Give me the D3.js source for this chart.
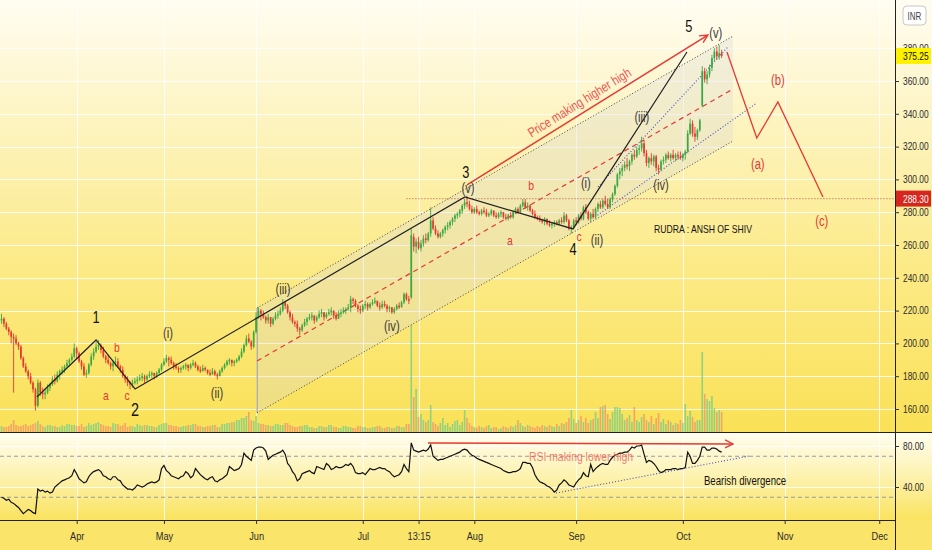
<!DOCTYPE html>
<html>
<head>
<meta charset="utf-8">
<script src="https://cdn.jsdelivr.net/npm/d3@7"></script>
<style>
  body { margin: 0; overflow: hidden; background: #fbe46a; }
  svg { display: block; }
</style>
</head>
<body>
<svg id="chart"></svg>
<script>
// 4h candles, [open, high, low, close], two bars per session
let marBars = [
  [214,218,212,215],[215,216,210,212],[212,213,208,209],[209,210,205,207],[207,208,200,204],[204,206,170,203],
  [203,205,199,200],[200,201,196,198],[198,199,190,191],[191,192,185,186],[186,188,182,183],[183,184,178,180],
  [180,182,175,176],[176,177,170,172],[172,173,159,162],[162,178,161,176],[176,177,168,170],[170,173,166,169],
  [169,172,166,170],[170,175,169,173],[173,176,171,175],[175,180,174,178],[178,181,175,177],[177,183,176,181],
  [181,184,178,183],[183,186,181,184],[184,187,182,186],[186,190,185,188],[188,191,186,190],[190,194,189,192],
  [192,200,191,197],[197,198,190,194]
]
let aprBars = [
  [194,195,188,189],[189,190,184,186],[186,188,180,181],[181,184,179,182],[182,188,181,187],[187,194,186,192],
  [192,197,190,195],[195,201,194,198],[198,202,196,199],[199,200,194,196],[196,198,191,192],[192,193,188,190],
  [190,193,187,188],[188,189,184,186],[186,190,183,188],[188,192,186,189],[189,191,185,186],[186,187,182,184],
  [184,186,179,180],[180,181,176,178],[178,180,174,176],[176,177,172,175],[175,178,173,176],[176,179,175,177],
  [177,180,175,178],[178,181,177,179],[179,182,177,180],[180,181,176,178],[178,181,177,180],[180,183,179,181],
  [181,183,179,182],[182,182,178,180],[180,183,179,182],[182,185,181,184],[184,188,183,187],[187,191,186,189]
]
let mayBars = [
  [189,193,188,191],[191,192,186,190],[190,192,187,188],[188,189,184,186],[186,188,184,185],[185,186,182,184],
  [184,186,182,185],[185,187,184,186],[186,188,184,187],[187,187,183,185],[185,188,184,187],[187,190,186,188],
  [188,189,185,186],[186,187,183,184],[184,186,182,183],[183,187,183,185],[185,186,183,184],[184,184,181,182],
  [182,184,180,181],[181,185,181,183],[183,184,180,181],[181,182,178,180],[180,184,180,183],[183,186,182,185],
  [185,188,184,187],[187,190,186,189],[189,191,187,190],[190,190,186,188],[188,190,186,189],[189,191,188,190],
  [190,193,189,192],[192,197,191,195],[195,200,194,199],[199,205,198,203],[203,206,200,201],[201,202,196,198],
  [198,208,197,207],[207,219,206,216]
]
let junBars = [
  [216,222,215,220],[220,221,214,218],[218,220,215,216],[216,217,212,214],[214,218,212,216],[216,216,210,212],
  [212,216,211,215],[215,219,214,217],[217,220,215,218],[218,222,217,220],[220,227,219,225],[225,226,221,223],
  [223,224,218,219],[219,220,214,216],[216,218,212,213],[213,214,210,212],[212,214,207,209],[209,210,205,208],
  [208,212,207,211],[211,215,210,213],[213,216,211,215],[215,218,214,216],[216,219,214,217],[217,217,212,214],
  [214,217,213,216],[216,220,215,218],[218,221,216,219],[219,219,214,216],[216,219,215,218],[218,221,217,219],
  [219,222,217,220],[220,220,215,217],[217,219,214,215],[215,220,215,218],[218,221,216,219],[219,222,218,220],
  [220,222,218,221],[221,224,220,222],[222,229,219,227],[227,228,224,226],[226,227,222,223],[223,224,219,221],
  [221,223,218,220],[220,224,219,223]
]
let julBars = [
  [223,226,221,224],[224,225,220,222],[222,225,221,224],[224,227,223,225],[225,228,224,226],[226,226,222,223],
  [223,225,220,222],[222,226,221,224],[224,226,222,223],[223,224,219,221],[221,223,219,222],[222,222,218,219],
  [219,222,218,221],[221,224,220,223],[223,225,221,222],[222,226,222,225],[225,231,224,230],[230,231,226,227],
  [227,229,224,226],[228,270,227,266],[265,267,256,259],[259,264,255,262],[262,265,257,258],[258,263,256,261],
  [261,266,259,264],[264,267,261,263],[263,268,262,267],[267,283,265,275],[275,277,269,270],[270,272,266,267],
  [267,269,264,265],[265,268,264,267],[267,270,265,269],[269,272,267,271],[271,274,269,272],[272,275,270,274],
  [274,277,272,276],[276,279,274,278],[278,280,276,279],[279,282,277,281],[281,285,279,284],[284,288,282,286],
  [286,290,283,285],[285,287,281,282],[282,284,279,280],[280,283,279,282]
]
let augBars = [
  [282,284,279,280],[280,281,278,279],[279,282,278,281],[281,283,279,280],[280,282,277,278],[278,280,277,279],
  [279,282,278,281],[281,281,277,278],[278,280,276,277],[277,280,276,279],[279,281,277,280],[280,280,276,277],
  [277,279,275,276],[276,279,275,278],[278,280,276,277],[277,281,276,280],[280,283,279,282],[282,283,279,280],
  [280,285,279,284],[284,288,283,286],[286,288,282,283],[283,286,281,284],[284,285,280,281],[281,282,278,279],
  [279,281,276,277],[277,278,275,276],[276,278,274,275],[275,276,273,274],[274,277,272,276],[276,276,272,273],
  [273,275,271,272],[272,274,270,273],[273,275,271,274],[274,275,272,273],[273,276,272,275],[275,277,273,274],
  [274,280,273,278],[278,279,274,275],[275,276,269,270],[270,272,267,271],[271,276,270,275],[275,277,272,274]
]
let sepBars = [
  [274,279,273,278],[278,280,275,276],[276,284,275,283],[283,285,279,280],[280,281,275,276],[276,280,274,279],
  [279,282,276,277],[277,283,276,282],[282,286,280,285],[285,287,282,283],[283,288,282,287],[287,290,284,285],
  [285,288,282,283],[283,289,282,288],[288,292,286,291],[291,297,290,296],[296,304,295,303],[303,307,300,305],
  [305,309,302,307],[307,311,305,309],[309,313,306,308],[308,312,305,311],[311,316,309,315],[315,318,312,314],
  [314,320,313,318],[318,321,315,319],[319,326,317,322],[322,324,314,316],[316,318,308,310],[310,314,307,313],
  [313,316,309,311],[311,315,308,314],[314,315,305,307],[307,309,303,306],[306,312,305,311],[311,314,309,312],
  [312,316,310,315],[315,317,312,313],[313,316,311,315],[315,318,312,313],[313,316,311,315],[315,317,312,314],
  [314,317,312,313],[313,316,311,315]
]
let octBars = [
  [315,318,312,317],[317,330,316,328],[328,337,327,334],[334,336,326,328],[328,332,323,326],[326,331,324,330],
  [330,337,329,336],[345,369,344,366],[366,368,359,361],[361,366,358,364],[364,370,362,368],[368,376,366,374],
  [374,380,372,378],[378,381,373,375],[375,382,373,377],[377,379,374,375.25]
]

let marVol = [6,5,5,6,8,12,7,6,6,7,8,6,7,8,9,11,8,6,5,7,7,6,6,5,5,7,6,8,8,7,7,6]
let aprVol = [6,8,5,6,9,7,8,9,10,8,7,6,6,5,9,8,8,6,7,9,5,6,6,5,8,7,6,7,7,6,6,5,5,7,8,9]
let mayVol = [9,7,7,6,6,5,5,6,6,7,7,8,8,6,6,5,5,6,6,7,7,5,5,8,8,9,9,10,10,12,12,14,14,16,20,12,11,16]
let junVol = [9,8,8,7,7,6,6,8,8,7,7,9,9,7,6,5,5,6,6,7,7,5,5,4,4,6,6,5,5,7,7,5,5,4,4,6,6,5,5,4,4,6,6,5]
let julVol = [5,4,4,5,5,6,6,4,4,5,5,4,4,6,6,5,5,8,8,107,35,43,15,18,12,10,12,27,10,8,6,9,14,7,9,5,8,11,12,7,10,22,14,9,6,5]
let augVol = [4,6,5,4,6,7,4,5,5,3,4,6,5,4,6,5,7,12,9,6,5,7,6,5,4,6,5,7,6,5,7,6,5,8,6,9,8,10,14,22,13,9]
let sepVol = [12,16,10,14,9,12,13,20,14,25,26,27,18,13,20,25,25,24,18,12,14,17,10,25,12,10,15,18,12,10,16,8,14,19,10,13,8,12,10,7,9,8,12,9]
let octVol = [28,16,21,15,10,12,12,80,38,33,31,36,24,20,22,20]

let marRsi = [30,29,27,28,25,24,22,20,17,14,16,18,17,15,14,38,36,37,35,36,34,35,40,42,44,46,47,48,49,51,57,53]
let aprRsi = [48,46,44,45,50,53,55,56,57,55,51,50,48,47,50,50,47,46,42,40,38,38,37,39,42,41,40,41,43,44,45,44,45,47,58,61]
let mayRsi = [56,54,51,50,49,48,50,51,55,53,49,51,58,55,52,50,48,47,49,50,46,45,47,48,50,52,60,58,56,57,58,62,73,70,68,66,76,78]
let junRsi = [79,79,78,75,67,69,71,72,73,74,76,72,63,60,55,52,46,48,53,54,55,56,54,53,60,59,58,57,63,61,57,58,60,59,59,60,62,61,63,60,54,53,53,54]
let julRsi = [52,55,58,57,57,58,59,58,58,56,55,52,50,51,52,55,62,58,55,83,76,75,74,75,76,75,77,81,70,68,66,67,67,68,69,70,71,72,73,74,76,77,76,73,71,70]
let augRsi = [68,67,66,65,64,63,62,61,60,59,58,56,55,54,54,55,55,56,58,64,64,63,63,59,52,48,45,44,43,41,40,38,35,37,42,44,47,45,42,41,40,44]
let sepRsi = [47,49,54,51,50,62,55,58,60,62,63,62,62,66,69,71,72,73,73,74,74,76,79,78,80,80,81,72,64,66,65,63,60,56,54,55,57,57,57,58,58,57,58,58]
let octRsi = [59,74,70,63,63,66,70,79,79,76,76,78,78,77,75,74]

// time axis ticks, position given as bar index
let timeTicks = [
  {label:'Apr', i:31}, {label:'May', i:67}, {label:'Jun', i:105}, {label:'Jul', i:149},
  {label:'13:15', i:172}, {label:'Aug', i:195}, {label:'Sep', i:237}, {label:'Oct', i:281},
  {label:'Nov', i:323}, {label:'Dec', i:362}
]
let priceTicks = [160,180,200,220,240,260,280,300,320,340,360,380]
let rsiTicks = [40, 80]
let lastPrice = 375.25
let markPrice = 288.30

// elliott wave annotations: bar index + price
let waveLine = [[14.6,167.3],[39,202.1],[55.1,172.2],[191.1,289.3],[235.7,269.8],[282.7,377.7]]
let projLine = [[299.2,377.7],[311.5,325.2],[320.2,347.2],[338.8,289.3]]
let channelTop = [[105.4,221.6],[301.7,387.4]]
let channelBottom = [[105.4,157.6],[301.7,323.4]]
let channelMid = [[105.4,189.3],[301.7,355.1]]
let blueUpper = [[246,295.4],[299.6,380.7]]
let blueLower = [[244.8,277.1],[311.5,346.6]]
let higherHigh = [[192,296.6],[291.3,388]]
let majorLabels = [
  {t:'1', i:39, p:215.5}, {t:'2', i:55.1, p:159.4}, {t:'3', i:191.5, p:304.5},
  {t:'4', i:235.7, p:257}, {t:'5', i:283.5, p:393}
]
let minorLabels = [
  {t:'(i)', i:68.7, p:206.3}, {t:'(ii)', i:88.9, p:169.8}, {t:'(iii)', i:116.1, p:233.2},
  {t:'(iv)', i:161, p:210.6}, {t:'(v)', i:192.4, p:294.8},
  {t:'(i)', i:241, p:297.8}, {t:'(ii)', i:245.6, p:263}, {t:'(iii)', i:264.1, p:338},
  {t:'(iv)', i:272, p:296.6}, {t:'(v)', i:294.6, p:389.3}
]
let abcLabels = [
  {t:'a', i:43.1, p:168.5}, {t:'b', i:47.6, p:197.2}, {t:'c', i:51.8, p:168.5},
  {t:'a', i:209.7, p:263}, {t:'b', i:218.4, p:296}, {t:'c', i:238.2, p:264.9}
]
let projLabels = [
  {t:'(a)', i:311.9, p:309.4}, {t:'(b)', i:320.2, p:360.6}, {t:'(c)', i:338.3, p:274.6}
]
let rsiLowerHigh = [[175.9,82.9],[301.7,82]]
let rsiSupport = [[228.7,34.1],[308.3,70.2]]

let width = 932
let height = 550
let plotRight = 895
let priceBottom = 432
let rsiTop = 433
let rsiBottom = 520
let font = "'Liberation Sans',Arial,sans-serif"
let narrow = 0.8   // the screenshot text is squeezed sideways
let upColor = '#3aa845'
let downColor = '#e5392f'
let red = '#e53935'

let bars = [...marBars, ...aprBars, ...mayBars, ...junBars, ...julBars, ...augBars, ...sepBars, ...octBars]
  .map(([o,h,l,c], i) => ({i, o, h, l, c}))
let volumes = [...marVol, ...aprVol, ...mayVol, ...junVol, ...julVol, ...augVol, ...sepVol, ...octVol]
let rsi = [...marRsi, ...aprRsi, ...mayRsi, ...junRsi, ...julRsi, ...augRsi, ...sepRsi, ...octRsi]

let svg = d3.select('#chart').attr('width', width).attr('height', height)

let xScale = d3.scaleLinear().domain([0, 368.5]).range([1.5, plotRight])
let yScale = d3.scaleLinear().domain([160, 360]).range([409, 81])
let rsiScale = d3.scaleLinear().domain([40, 80]).range([487, 446])
let volScale = d3.scaleLinear().domain([0, 110]).range([priceBottom, priceBottom - 110])

let defs = svg.append('defs')

let gradient = (id, stops) => {
  let g = defs.append('linearGradient').attr('id', id).attr('x1', 0).attr('y1', 0).attr('x2', 0).attr('y2', 1)
  stops.forEach(s => g.append('stop').attr('offset', s[0]).attr('stop-color', s[1]))
}
gradient('bgPrice', [[0, '#fffdf2'], [0.3, '#fdf3bd'], [0.62, '#fcea86'], [1, '#fae157']])
gradient('bgRsi', [[0, '#fffdf0'], [0.5, '#fdf2ae'], [1, '#fae35e']])

defs.append('clipPath').attr('id', 'clipPrice')
  .append('rect').attr('x', 0).attr('y', 0).attr('width', plotRight).attr('height', priceBottom)
defs.append('clipPath').attr('id', 'clipRsi')
  .append('rect').attr('x', 0).attr('y', rsiTop).attr('width', plotRight).attr('height', rsiBottom - rsiTop)

defs.append('marker').attr('id', 'arrowRed')
  .attr('viewBox', '0 0 10 10').attr('refX', 9).attr('refY', 5)
  .attr('markerWidth', 10).attr('markerHeight', 10).attr('markerUnits', 'userSpaceOnUse')
  .attr('orient', 'auto')
  .append('path').attr('d', 'M1,1 L9,5 L1,9').attr('fill', 'none')
  .attr('stroke', red).attr('stroke-width', 1.4)

// backgrounds
svg.append('rect').attr('width', width).attr('height', priceBottom).attr('fill', 'url(#bgPrice)')
svg.append('rect').attr('y', rsiTop).attr('width', width).attr('height', rsiBottom - rsiTop).attr('fill', 'url(#bgRsi)')
svg.append('rect').attr('y', rsiBottom).attr('width', width).attr('height', height - rsiBottom).attr('fill', '#fbe46a')

// grid
let grid = svg.append('g').attr('stroke', '#ffffff').attr('stroke-opacity', 0.85).attr('stroke-width', 1)
grid.selectAll('line.h').data(priceTicks).join('line')
  .attr('x1', 0).attr('x2', plotRight)
  .attr('y1', d => Math.round(yScale(d)) + 0.5).attr('y2', d => Math.round(yScale(d)) + 0.5)
grid.selectAll('line.hr').data(rsiTicks).join('line')
  .attr('x1', 0).attr('x2', plotRight)
  .attr('y1', d => Math.round(rsiScale(d)) + 0.5).attr('y2', d => Math.round(rsiScale(d)) + 0.5)
grid.selectAll('line.v').data(timeTicks).join('line')
  .attr('x1', d => Math.round(xScale(d.i)) + 0.5).attr('x2', d => Math.round(xScale(d.i)) + 0.5)
  .attr('y1', 0).attr('y2', rsiBottom)

let pricePane = svg.append('g').attr('clip-path', 'url(#clipPrice)')

// channel shading
let line = d3.line().x(d => xScale(d[0])).y(d => yScale(d[1]))
let shade = [channelTop[0], channelTop[1], channelBottom[1], channelBottom[0]]
pricePane.append('path').attr('d', line(shade) + 'Z')
  .attr('fill', '#d8d8d8').attr('fill-opacity', 0.3)
pricePane.append('line')
  .attr('x1', xScale(channelTop[0][0])).attr('x2', xScale(channelBottom[0][0]))
  .attr('y1', yScale(channelTop[0][1])).attr('y2', yScale(channelBottom[0][1]))
  .attr('stroke', '#777').attr('stroke-width', 0.8)

// volume
pricePane.append('g').selectAll('rect').data(bars).join('rect')
  .attr('x', d => xScale(d.i) - 0.8).attr('width', 1.6)
  .attr('y', d => volScale(volumes[d.i]))
  .attr('height', d => priceBottom - volScale(volumes[d.i]))
  .attr('fill', d => d.c >= d.o ? '#7fcf86' : '#f2996a')
  .attr('fill-opacity', 0.85)

// channel lines
pricePane.append('path').attr('d', line(channelTop)).attr('fill', 'none')
  .attr('stroke', '#444').attr('stroke-width', 1).attr('stroke-dasharray', '1,2')
pricePane.append('path').attr('d', line(channelBottom)).attr('fill', 'none')
  .attr('stroke', '#444').attr('stroke-width', 1).attr('stroke-dasharray', '1,2')
pricePane.append('path').attr('d', line(channelMid)).attr('fill', 'none')
  .attr('stroke', red).attr('stroke-width', 1.2).attr('stroke-dasharray', '5,4')
pricePane.append('path').attr('d', line(blueUpper)).attr('fill', 'none')
  .attr('stroke', '#3c4fc4').attr('stroke-width', 1.1).attr('stroke-dasharray', '1,2')
pricePane.append('path').attr('d', line(blueLower)).attr('fill', 'none')
  .attr('stroke', '#3c4fc4').attr('stroke-width', 1.1).attr('stroke-dasharray', '1,2')

// dotted level of wave 3 top
pricePane.append('line')
  .attr('x1', xScale(167)).attr('x2', plotRight)
  .attr('y1', yScale(markPrice)).attr('y2', yScale(markPrice))
  .attr('stroke', '#c0705a').attr('stroke-width', 1.1).attr('stroke-dasharray', '1,2')

// candles
let candles = pricePane.append('g')
candles.selectAll('line').data(bars).join('line')
  .attr('x1', d => xScale(d.i)).attr('x2', d => xScale(d.i))
  .attr('y1', d => yScale(d.h)).attr('y2', d => yScale(d.l))
  .attr('stroke', d => d.c >= d.o ? upColor : downColor).attr('stroke-width', 0.9)
candles.selectAll('rect').data(bars).join('rect')
  .attr('x', d => xScale(d.i) - 0.85).attr('width', 1.7)
  .attr('y', d => yScale(Math.max(d.o, d.c)))
  .attr('height', d => Math.max(0.8, Math.abs(yScale(d.o) - yScale(d.c))))
  .attr('fill', d => d.c >= d.o ? upColor : downColor)

// wave lines
pricePane.append('path').attr('d', line(waveLine)).attr('fill', 'none')
  .attr('stroke', '#222').attr('stroke-width', 1.2)
pricePane.append('path').attr('d', line(projLine)).attr('fill', 'none')
  .attr('stroke', red).attr('stroke-width', 1.3)
pricePane.append('path').attr('d', line(higherHigh)).attr('fill', 'none')
  .attr('stroke', red).attr('stroke-width', 1.5).attr('marker-end', 'url(#arrowRed)')

// text along the higher-high arrow
let hx1 = xScale(higherHigh[0][0]), hy1 = yScale(higherHigh[0][1])
let hx2 = xScale(higherHigh[1][0]), hy2 = yScale(higherHigh[1][1])
let angle = Math.atan2(hy2 - hy1, hx2 - hx1) * 180 / Math.PI
let hmx = hx1 + (hx2 - hx1) * 0.49, hmy = hy1 + (hy2 - hy1) * 0.49
pricePane.append('text')
  .attr('transform', `translate(${hmx},${hmy}) rotate(${angle})`)
  .attr('y', -6).attr('text-anchor', 'middle')
  .attr('font-family', font).attr('font-size', 13.5).attr('fill', '#ef5350')
  .text('Price making higher high')

let labelText = (data, size, color, weight) => {
  pricePane.append('g').selectAll('text').data(data).join('text')
    .attr('x', d => xScale(d.i)).attr('y', d => yScale(d.p))
    .attr('text-anchor', 'middle').attr('dominant-baseline', 'central')
    .attr('font-family', font).attr('font-size', d => d.t === '2' ? size + 2 : size)
    .attr('font-weight', weight).attr('fill', color)
    .text(d => d.t)
}
labelText(majorLabels, 16, '#111', 'normal')
labelText(minorLabels, 14, '#3a3a3a', 'normal')
labelText(abcLabels, 13, red, 'normal')
labelText(projLabels, 14, red, 'normal')

pricePane.append('text')
  .attr('x', xScale(289.3)).attr('y', yScale(269.8))
  .attr('text-anchor', 'middle').attr('dominant-baseline', 'central')
  .attr('font-family', font).attr('font-size', 10.8).attr('fill', '#111')
  .text('RUDRA : ANSH OF SHIV')

// RSI pane
let rsiPane = svg.append('g').attr('clip-path', 'url(#clipRsi)')
rsiPane.selectAll('line.lvl').data([70, 30]).join('line')
  .attr('x1', 0).attr('x2', plotRight)
  .attr('y1', d => rsiScale(d)).attr('y2', d => rsiScale(d))
  .attr('stroke', '#9a9a9a').attr('stroke-width', 1).attr('stroke-dasharray', '4,3')
let rsiLine = d3.line().x((d, i) => xScale(i)).y(d => rsiScale(d))
rsiPane.append('path').attr('d', rsiLine(rsi)).attr('fill', 'none')
  .attr('stroke', '#111').attr('stroke-width', 1.2)
let rline = d3.line().x(d => xScale(d[0])).y(d => rsiScale(d[1]))
rsiPane.append('path').attr('d', rline(rsiLowerHigh)).attr('fill', 'none')
  .attr('stroke', red).attr('stroke-width', 1.5).attr('marker-end', 'url(#arrowRed)')
rsiPane.append('path').attr('d', rline(rsiSupport)).attr('fill', 'none')
  .attr('stroke', '#3c4fc4').attr('stroke-width', 1.1).attr('stroke-dasharray', '1,2')
rsiPane.append('text')
  .attr('x', xScale(239)).attr('y', rsiScale(69.3))
  .attr('text-anchor', 'middle').attr('dominant-baseline', 'central')
  .attr('font-family', font).attr('font-size', 13).attr('fill', '#ef5350').attr('fill-opacity', 0.75)
  .text('RSI making lower high')
rsiPane.append('text')
  .attr('x', xScale(289.7)).attr('y', rsiScale(45.9))
  .attr('dominant-baseline', 'central')
  .attr('font-family', font).attr('font-size', 12).attr('fill', '#111')
  .text('Bearish divergence')

// separators
svg.append('line').attr('x1', 0).attr('x2', width).attr('y1', priceBottom + 0.5).attr('y2', priceBottom + 0.5)
  .attr('stroke', '#222').attr('stroke-width', 1)
svg.append('line').attr('x1', plotRight + 0.5).attr('x2', plotRight + 0.5).attr('y1', 0).attr('y2', height)
  .attr('stroke', '#222').attr('stroke-width', 1)

// axes
let styleAxis = g => {
  g.selectAll('text').attr('font-family', font).attr('font-size', 10.5).attr('fill', '#2b2b2b')
  g.selectAll('line').attr('stroke', '#333')
}
svg.append('g').attr('transform', `translate(${plotRight},0)`)
  .call(d3.axisRight(yScale).tickValues(priceTicks).tickFormat(d3.format('.2f')).tickSize(4).tickPadding(4))
  .call(g => g.select('.domain').remove())
  .call(styleAxis)
svg.append('g').attr('transform', `translate(${plotRight},0)`)
  .call(d3.axisRight(rsiScale).tickValues(rsiTicks).tickFormat(d3.format('.2f')).tickSize(4).tickPadding(4))
  .call(g => g.select('.domain').remove())
  .call(styleAxis)
svg.append('g').attr('transform', `translate(0,${rsiBottom})`)
  .call(d3.axisBottom(xScale).tickValues(timeTicks.map(t => t.i))
    .tickFormat((d, k) => timeTicks[k].label).tickSize(4).tickPadding(8))
  .call(g => g.select('.domain').attr('d', `M0,0.5H${plotRight}`).attr('stroke', '#222'))
  .call(g => g.selectAll('text').attr('font-size', 11.5))
  .call(styleAxis)
  .call(g => g.selectAll('text').attr('font-size', 11.5))

// price labels on the axis
let axisTag = (value, bg, color) => {
  let y = yScale(value)
  svg.append('rect').attr('x', plotRight + 1).attr('y', y - 8).attr('width', width - plotRight - 2).attr('height', 16)
    .attr('fill', bg)
  svg.append('text').attr('x', plotRight + 8).attr('y', y).attr('dominant-baseline', 'central')
    .attr('font-family', font).attr('font-size', 10.5).attr('fill', color)
    .text(d3.format('.2f')(value))
}
axisTag(lastPrice, '#fff200', '#111')
axisTag(markPrice, '#d7261e', '#ffffff')

// currency badge
svg.append('rect').attr('x', 903).attr('y', 6).attr('width', 23).attr('height', 19).attr('rx', 4)
  .attr('fill', '#ffffff').attr('stroke', '#c8c8c8')
svg.append('text').attr('x', 914.5).attr('y', 16).attr('text-anchor', 'middle').attr('dominant-baseline', 'central')
  .attr('font-family', font).attr('font-size', 10).attr('fill', '#444').text('INR')

// squeeze every text sideways like the source screenshot
svg.selectAll('text').each(function () {
  let len = this.getComputedTextLength()
  if (len > 0) d3.select(this).attr('textLength', len * narrow).attr('lengthAdjust', 'spacingAndGlyphs')
})
</script>
</body>
</html>
